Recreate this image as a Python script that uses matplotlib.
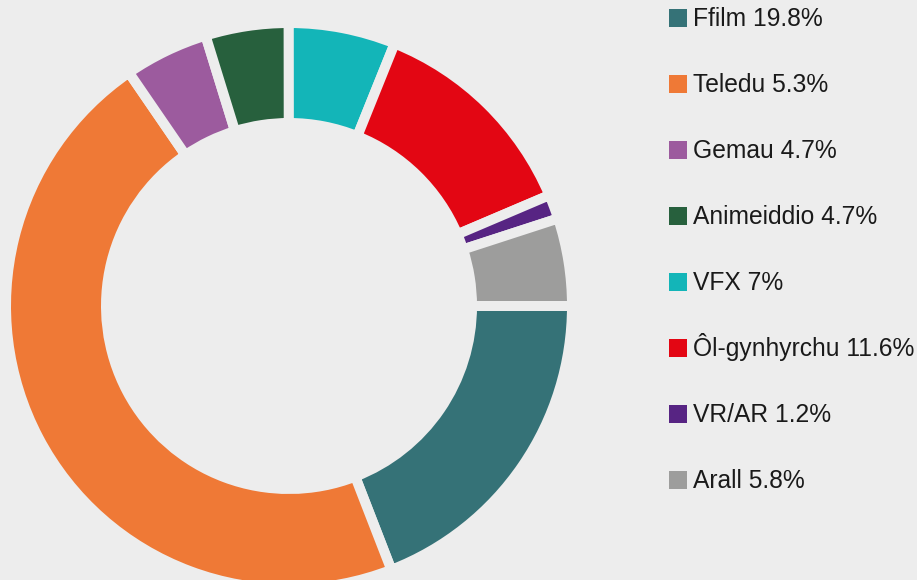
import matplotlib.pyplot as plt
from matplotlib.patches import Rectangle

# slice sizes (the legend text carries its own numbers)
names = ['Ffilm', 'Teledu', 'Gemau', 'Animeiddio', 'VFX', 'Ôl-gynhyrchu', 'VR/AR', 'Arall']
legend_pct = ['19.8%', '5.3%', '4.7%', '4.7%', '7%', '11.6%', '1.2%', '5.8%']
sizes = [19.1, 46.3, 4.8, 4.75, 6.1, 12.5, 1.4, 5.0]
colors = ['#357277', '#ef7936', '#9c5b9e', '#27603d', '#13b5b8', '#e30613', '#572483', '#9d9d9c']

bg = '#ededed'
W, H = 917, 580

fig = plt.figure(figsize=(W / 100, H / 100), dpi=100, facecolor=bg)
ax = fig.add_axes([0, 0, 1, 1])
ax.set_facecolor(bg)

# ring: centre (289, 306) from the top-left, outer edge ~278 px, inner ~188 px
gap = 10
ax.pie(sizes, colors=colors, startangle=0, counterclock=False,
       center=(289, H - 306), radius=278 + gap / 2,
       wedgeprops=dict(width=100, edgecolor=bg, linewidth=gap * 72 / 100))

ax.set_xlim(0, W)
ax.set_ylim(0, H)
ax.set_aspect('auto')
ax.axis('off')

# legend on the right, one row every 66 px
for i, (n, p, c) in enumerate(zip(names, legend_pct, colors)):
    yc = H - (18 + 66 * i)
    ax.add_patch(Rectangle((669, yc - 9), 18, 18, facecolor=c, edgecolor='none'))
    ax.text(693, yc - 8, n + ' ' + p, fontsize=17.7, family='Liberation Sans',
            color='#1a1a1a', va='baseline', ha='left')

fig.savefig('out.png', dpi=100, facecolor=bg)
